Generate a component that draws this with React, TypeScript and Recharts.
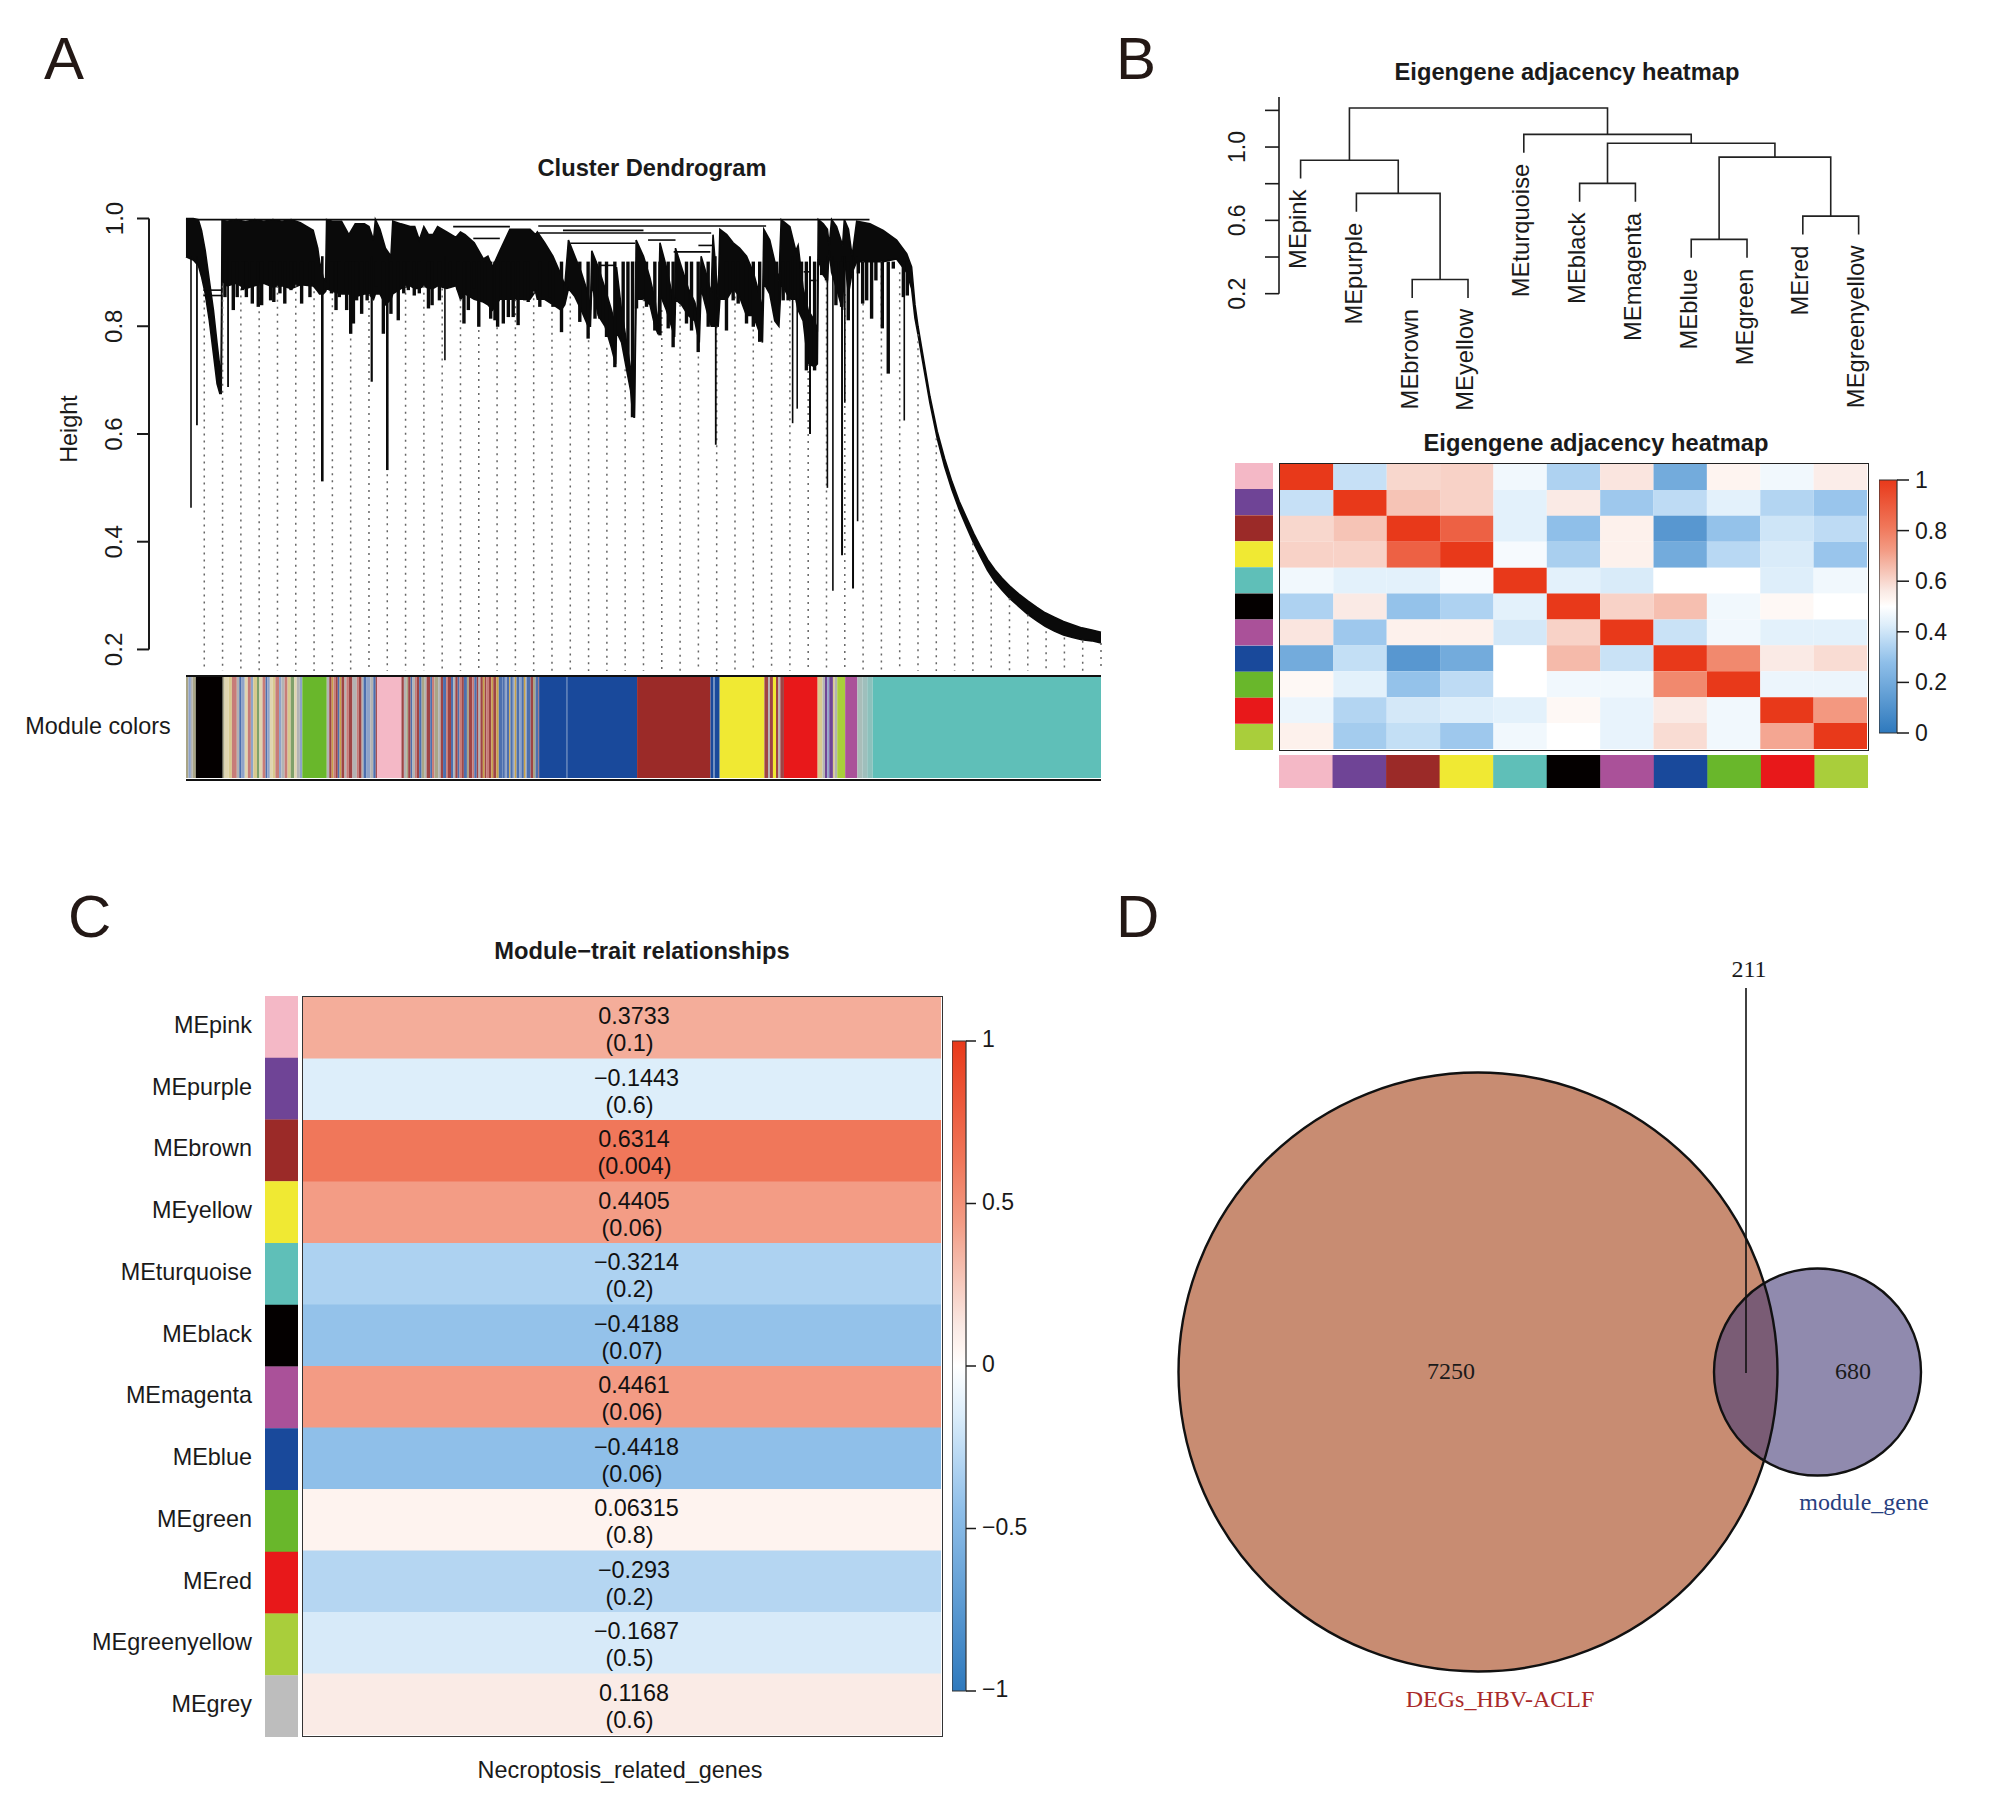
import React from 'react';
import {
  Area,
  Bar,
  BarChart,
  Cell,
  ComposedChart,
  LabelList,
  Line,
  ReferenceLine,
  Scatter,
  ScatterChart,
  XAxis,
  YAxis,
  ZAxis,
} from 'recharts';

const SANS = '"Liberation Sans", Arial, sans-serif';
const SERIF = '"Liberation Serif", "Times New Roman", serif';
const INK = '#1a1a1a';

// ---- shared module names / colours
const moduleNames = ['MEpink', 'MEpurple', 'MEbrown', 'MEyellow', 'MEturquoise', 'MEblack', 'MEmagenta', 'MEblue', 'MEgreen', 'MEred', 'MEgreenyellow', 'MEgrey'];
const moduleColors = ['#F4B8C6', '#6F4496', '#9B2A28', '#F0E933', '#5FBFB8', '#040000', '#AA5199', '#19499B', '#69B72B', '#E8181A', '#A9CE3B', '#BDBDBD'];

// colour key: signed value -> colour
const scaleValues = [-1, -0.44, -0.3, -0.15, 0, 0.06, 0.12, 0.37, 0.44, 0.63, 1];
const scaleColors = ['#2E79BD', '#8FBFE9', '#B3D5F2', '#DCEDFA', '#FFFFFF', '#FEF4F0', '#FAEAE5', '#F4AE9B', '#F39C85', '#F0775A', '#E8391A'];

const hexToRgb = (h: string) => [1, 3, 5].map((i) => parseInt(h.slice(i, i + 2), 16));
function colorFor(v: number) {
  let i = 0;
  while (i < scaleValues.length - 2 && v > scaleValues[i + 1]) i++;
  const t = (v - scaleValues[i]) / (scaleValues[i + 1] - scaleValues[i]);
  const a = hexToRgb(scaleColors[i]);
  const b = hexToRgb(scaleColors[i + 1]);
  return `rgb(${a.map((c, k) => Math.round(c + (b[k] - c) * t)).join(',')})`;
}

// ---- panel A: gene dendrogram, x = gene order per mille
// solid part of each clade
const dendroX = [
  0, 8, 13.5, 17, 21, 25.5, 30, 34, 37, 38.5,
  39.4, 45, 55, 65, 75, 85, 95, 105, 115, 125,
  139, 144, 146, 150, 152.6, 153.7, 160, 170, 178, 185,
  195, 200, 205, 207, 212, 218, 224, 226, 235, 245,
  250, 255, 260, 265, 270, 275, 285, 295, 300, 305,
  315, 325, 330, 335, 343, 354, 365, 376, 382, 384,
  392, 401, 410, 414, 418, 425, 432, 439.5, 442, 443.5,
  450.5, 458, 465, 469.5, 470.5, 476, 481.5, 486, 488, 490,
  492, 500, 507, 512.5, 516, 518, 525, 530.6, 534, 535,
  541.5, 549, 556, 561, 563, 569, 574, 576, 581.6, 583.5,
  591, 598, 605, 612.6, 620, 626.5, 630, 631.5, 638, 643.5,
  648, 650.5, 660, 666.5, 669, 674.5, 680, 687, 690, 691,
  696.5, 701, 703, 705.6, 711, 717.6, 719.5, 724, 728, 733,
  747.5, 762, 776.6, 787.6, 793, 796.7, 800, 804, 813, 821,
  829, 837, 845, 853, 861, 868, 876, 884, 892, 900,
  910, 920, 930, 939, 949, 959, 969, 979, 990, 1000,
];
const dendroTop = [
  1, 1, 0.998, 0.978, 0.941, 0.885, 0.83, 0.768, 0.724, 0.693,
  0.997, 0.995, 0.998, 0.994, 0.998, 0.995, 0.998, 0.995, 0.998, 0.992,
  0.978, 0.945, 0.92, 0.89, 0.885, 0.998, 0.995, 0.995, 0.97, 0.99,
  0.99, 0.985, 0.96, 0.998, 0.98, 0.945, 0.93, 0.995, 0.99, 0.985,
  0.985, 0.96, 0.985, 0.97, 0.97, 0.985, 0.975, 0.965, 0.975, 0.97,
  0.955, 0.925, 0.93, 0.91, 0.94, 0.98, 0.98, 0.98, 0.97, 0.975,
  0.955, 0.93, 0.895, 0.875, 0.96, 0.93, 0.9, 0.86, 0.83, 0.94,
  0.91, 0.87, 0.83, 0.8, 0.91, 0.83, 0.77, 0.72, 0.68, 0.63,
  0.96, 0.93, 0.89, 0.85, 0.8, 0.955, 0.91, 0.865, 0.82, 0.945,
  0.91, 0.87, 0.845, 0.81, 0.93, 0.895, 0.86, 0.97, 0.85, 0.98,
  0.97, 0.955, 0.945, 0.93, 0.9, 0.86, 0.83, 0.98, 0.96, 0.92,
  0.885, 0.998, 0.985, 0.94, 0.95, 0.87, 0.83, 0.81, 0.79, 0.998,
  0.99, 0.98, 0.95, 0.998, 0.985, 0.95, 0.998, 0.98, 0.93, 0.995,
  0.99, 0.978, 0.96, 0.935, 0.91, 0.84, 0.8, 0.76, 0.67, 0.605,
  0.555, 0.512, 0.475, 0.445, 0.415, 0.392, 0.367, 0.348, 0.332, 0.318,
  0.303, 0.29, 0.278, 0.268, 0.26, 0.252, 0.246, 0.24, 0.236, 0.232,
];
const dendroLow = [
  0.929, 0.923, 0.913, 0.892, 0.861, 0.811, 0.749, 0.693, 0.675, 0.675,
  0.885, 0.875, 0.88, 0.87, 0.875, 0.88, 0.873, 0.875, 0.87, 0.877,
  0.875, 0.865, 0.86, 0.86, 0.865, 0.87, 0.865, 0.86, 0.86, 0.855,
  0.86, 0.86, 0.85, 0.86, 0.86, 0.84, 0.85, 0.86, 0.87, 0.875,
  0.87, 0.87, 0.875, 0.87, 0.87, 0.875, 0.87, 0.875, 0.85, 0.86,
  0.85, 0.845, 0.84, 0.83, 0.85, 0.85, 0.85, 0.85, 0.865, 0.85,
  0.85, 0.84, 0.83, 0.84, 0.87, 0.855, 0.83, 0.8, 0.8, 0.88,
  0.82, 0.8, 0.76, 0.73, 0.79, 0.77, 0.72, 0.68, 0.64, 0.63,
  0.85, 0.85, 0.84, 0.8, 0.785, 0.86, 0.83, 0.8, 0.78, 0.85,
  0.84, 0.82, 0.81, 0.77, 0.87, 0.83, 0.8, 0.8, 0.8, 0.85,
  0.85, 0.87, 0.855, 0.82, 0.82, 0.79, 0.77, 0.88, 0.86, 0.81,
  0.8, 0.88, 0.85, 0.85, 0.83, 0.81, 0.73, 0.725, 0.73, 0.925,
  0.895, 0.885, 0.94, 0.9, 0.87, 0.83, 0.93, 0.86, 0.9, 0.92,
  0.92, 0.92, 0.925, 0.9, 0.87, 0.815, 0.785, 0.745, 0.658, 0.592,
  0.54, 0.497, 0.46, 0.428, 0.397, 0.373, 0.347, 0.326, 0.31, 0.295,
  0.28, 0.265, 0.253, 0.243, 0.234, 0.227, 0.222, 0.218, 0.216, 0.212,
];
// short hanging leaves under the clades
const hairX = [
  42.6, 51.7, 56, 62, 66, 72.5, 79, 82.7, 92.5, 96,
  102.7, 108, 114.8, 119, 126.4, 135.5, 139, 159, 164, 167.6,
  175.6, 180, 183, 186.5, 192, 198, 208, 215.7, 224, 232,
  238, 243, 249.5, 255, 265, 269, 277, 288.5, 297.6, 303.8,
  308.6, 314.8, 320, 326.8, 333, 337.7, 340.6, 346.8, 352.3, 357.6,
  363, 370.3, 374, 386.7, 397.6, 401.3, 410.4, 430.4, 439.5, 447,
  452.3, 459.6, 468.7, 477.8, 483, 488, 492.4, 503.3, 512.4, 518,
  527, 532.4, 547, 552.5, 559.8, 570.7, 590.7, 598, 603.5, 612.6,
  620, 627, 634.4, 645.4, 652.7, 658, 672.7, 678, 687, 694.7,
  700, 710.3, 716.5, 723.8, 734.8, 739.5, 743.9, 749.3, 754, 761,
  767.5, 773, 784, 788.3,
];
const hairLow = [
  0.854, 0.83, 0.854, 0.867, 0.854, 0.842, 0.836, 0.839, 0.848, 0.845,
  0.861, 0.842, 0.867, 0.885, 0.842, 0.854, 0.879, 0.861, 0.83, 0.854,
  0.83, 0.786, 0.805, 0.848, 0.823, 0.848, 0.873, 0.786, 0.823, 0.811,
  0.861, 0.867, 0.857, 0.861, 0.833, 0.839, 0.848, 0.873, 0.867, 0.805,
  0.83, 0.87, 0.799, 0.848, 0.814, 0.811, 0.799, 0.805, 0.817, 0.817,
  0.802, 0.848, 0.845, 0.836, 0.854, 0.836, 0.789, 0.808, 0.777, 0.814,
  0.814, 0.78, 0.724, 0.768, 0.718, 0.631, 0.833, 0.836, 0.792, 0.783,
  0.796, 0.761, 0.805, 0.792, 0.752, 0.799, 0.792, 0.848, 0.842, 0.805,
  0.799, 0.771, 0.879, 0.811, 0.848, 0.848, 0.83, 0.718, 0.718, 0.895,
  0.885, 0.839, 0.836, 0.811, 0.898, 0.842, 0.848, 0.814, 0.885, 0.796,
  0.712, 0.907, 0.854, 0.857,
];
// long single leaves
const spikeX = [5.5, 12, 46, 149, 203, 220, 283, 579, 663, 668, 682, 701, 707, 717, 720, 729, 734, 785];
const spikeLow = [0.463, 0.616, 0.687, 0.512, 0.697, 0.533, 0.737, 0.58, 0.62, 0.647, 0.6, 0.5, 0.309, 0.375, 0.658, 0.313, 0.438, 0.625];
const spikeWidth = [1.6, 1.8, 1.8, 2.6, 2.2, 2.6, 1.6, 1.8, 1.6, 1.6, 2, 1.6, 1.6, 2, 1.6, 2, 1.6, 1.6];
const branchFrom = [0, 385, 385, 412, 420, 533, 452, 292, 314, 675, 682, 19, 19, 505, 560];
const branchTo = [747, 634, 574, 500, 491, 573, 470, 354, 343, 682, 689, 39, 39, 535, 575];
const branchHeight = [0.998, 0.986, 0.973, 0.978, 0.954, 0.938, 0.913, 0.985, 0.963, 0.901, 0.885, 0.867, 0.857, 0.96, 0.95];
const guideX = [20, 40, 60, 80, 100, 120, 140, 160, 180, 200, 220, 240, 260, 280, 300, 320, 340, 360, 380, 400, 420, 440, 460, 480, 500, 520, 540, 560, 580, 600, 620, 640, 660, 680, 700, 720, 740, 760, 780, 800, 820, 840, 860, 880, 900, 920, 940, 960, 980, 1000];
const dendroTicks = [0.2, 0.4, 0.6, 0.8, 1.0];

// module colour strip of panel A
const P = moduleColors[0], PU = moduleColors[1], BR = moduleColors[2], Y = moduleColors[3], T = moduleColors[4], K = moduleColors[5], MG = moduleColors[6], BL = moduleColors[7], GN = moduleColors[8], R = moduleColors[9], GY = moduleColors[10];
const a = '#A9A587', b = '#8FA3C9', c = '#C77C78', d = '#D8C98E', e = '#B3B3B3', f = '#9E4445', g = '#4C6FAE', h = '#C8A24A', i = '#7FA06A', j = '#E0D5B0';
const stripColors = [
  a, b, e, a, K,
  a, j, d, c, e, g, b, j, c, b, d, i, j, c, g, b, j, d, c, b, e, c, d, i, j, e, b, GN,
  e, f, h, c, f, g, h, f, e, c, f, e, c, f, e, g, b, e, g, f, P,
  f, e, a, f, g, e, c, f, g, a, e, f, g, c, a, e, f, g, c, f, g, e, f, g, c, f, g, a, f, c, g, f, e, f, h, f, c, f, h, f, h, g, g, b, g, h, g, b, h, g, b, g, h, b, g, f, a, g, f,
  BL, '#4E74B0', BL, BR, BL, '#6C8CC0', BL, Y,
  f, e, f, Y, f, e, f, R,
  d, e, PU, b, PU, d, e, GY, MG, '#A9BDB9', '#9FBFBC', '#8CC1BC', T,
];
const stripWidths = [
  4, 4, 3, 5, 44,
  3, 7, 5, 8, 4, 3, 6, 5, 5, 4, 6, 4, 5, 5, 3, 4, 5, 4, 6, 4, 5, 5, 5, 6, 4, 5, 4, 40,
  4, 4, 3, 4, 3, 3, 3, 5, 3, 4, 6, 7, 3, 5, 3, 5, 6, 5, 4, 2, 40,
  4, 4, 3, 4, 3, 4, 3, 4, 4, 5, 3, 6, 3, 4, 6, 4, 4, 5, 3, 5, 4, 3, 4, 3, 4, 3, 5, 3, 6, 3, 4, 3, 3, 4, 3, 3, 4, 4, 3, 5, 4, 6, 4, 3, 4, 2, 4, 3, 3, 5, 3, 4, 3, 2, 6, 4, 4, 5, 1,
  45, 1, 114, 120, 5, 2, 8, 73,
  6, 3, 5, 5, 4, 3, 6, 55,
  8, 4, 4, 3, 6, 3, 4, 13, 20, 8, 8, 9, 373,
];
const stripTotal = stripWidths.reduce((s, w) => s + w, 0);
const stripRow: Record<string, number | string> = { name: 'modules' };
stripWidths.forEach((w, k) => { stripRow[`s${k}`] = w; });

// ---- panel B: eigengene tree, children are l = leaf, m = earlier merge
const mergeKids = [['l2', 'l3'], ['l1', 'm0'], ['l0', 'm1'], ['l5', 'l6'], ['l7', 'l8'], ['l9', 'l10'], ['m4', 'm5'], ['m3', 'm6'], ['l4', 'm7'], ['m2', 'm8']];
const mergeHeights = [0.277, 0.747, 0.928, 0.802, 0.496, 0.623, 0.945, 1.021, 1.069, 1.213];
const leafHang = 0.1;
const treeTicks = [0.2, 0.4, 0.6, 0.8, 1.0, 1.2];
const treeLabelled = [0.2, 0.6, 1.0];

// adjacency matrix, rows and columns in module order without grey
const adjacency = [
  [1, 0.385, 0.6, 0.61, 0.47, 0.34, 0.57, 0.2, 0.53, 0.47, 0.55],
  [0.385, 1, 0.64, 0.61, 0.44, 0.56, 0.31, 0.37, 0.44, 0.35, 0.3],
  [0.6, 0.64, 1, 0.88, 0.44, 0.28, 0.54, 0.12, 0.29, 0.4, 0.37],
  [0.61, 0.61, 0.88, 1, 0.48, 0.33, 0.54, 0.2, 0.36, 0.42, 0.3],
  [0.47, 0.44, 0.44, 0.48, 1, 0.44, 0.42, 0.5, 0.5, 0.43, 0.47],
  [0.34, 0.56, 0.29, 0.34, 0.44, 1, 0.61, 0.65, 0.47, 0.52, 0.5],
  [0.57, 0.31, 0.54, 0.54, 0.41, 0.61, 1, 0.39, 0.47, 0.44, 0.44],
  [0.2, 0.38, 0.12, 0.2, 0.5, 0.66, 0.39, 1, 0.77, 0.56, 0.59],
  [0.52, 0.44, 0.29, 0.37, 0.5, 0.47, 0.47, 0.77, 1, 0.46, 0.46],
  [0.46, 0.35, 0.41, 0.43, 0.44, 0.52, 0.45, 0.56, 0.47, 1, 0.73],
  [0.54, 0.32, 0.38, 0.31, 0.47, 0.5, 0.45, 0.59, 0.47, 0.7, 1],
];

// ---- panel C
const traitCorr = [0.3733, -0.1443, 0.6314, 0.4405, -0.3214, -0.4188, 0.4461, -0.4418, 0.06315, -0.293, -0.1687, 0.1168];
const traitP = ['(0.1)', '(0.6)', '(0.004)', '(0.06)', '(0.2)', '(0.07)', '(0.06)', '(0.06)', '(0.8)', '(0.2)', '(0.5)', '(0.6)'];

// ---- panel D
const vennSizes = [7461, 891];
const vennX = [328, 667.5];
const vennY = [422, 422];
const vennFills = ['#C88C72', '#463C78'];
const vennOpacity = [1, 0.6];
const vennTexts = ['7250', '680', '211', 'module_gene', 'DEGs_HBV-ACLF'];
const vennTextX = [301, 703, 599, 714, 350];
const vennTextY = [421, 421, 19, 552, 749];
const vennTextColors = ['#1a1a1a', '#1a1a1a', '#1a1a1a', '#28407F', '#A92A2A'];
const overlapLeaderX = [596, 596];
const overlapLeaderY = [38, 423];

const Box = ({ left, top, width, height, style, children }: any) => (
  <div style={{ position: 'absolute', left, top, width, height, ...style }}>{children}</div>
);

function DendrogramPanel() {
  const rows = dendroX.map((x, k) => ({ x, band: [dendroLow[k], dendroTop[k]] }));
  const lowAt = (x: number) => dendroLow[dendroX.findIndex((v) => v >= x)];
  const tick = ({ x, y, payload }: any) => (
    <text x={x} y={y} transform={`rotate(-90 ${x} ${y})`} textAnchor="middle" dominantBaseline="central" fontFamily={SANS} fontSize={24} fill={INK}>
      {payload.value.toFixed(1)}
    </text>
  );
  return (
    <Box left={49} top={180}>
      <ComposedChart width={1060} height={495} data={rows} margin={{ top: 38.5, right: 8, bottom: 4, left: 0 }}>
        <XAxis type="number" dataKey="x" domain={[-40.4, 1000]} hide />
        <YAxis type="number" width={100} domain={[0.16, 1]} ticks={dendroTicks} axisLine={false} tickSize={12} tickMargin={23} tickLine={{ stroke: INK, strokeWidth: 2 }} tick={tick} />
        {guideX.map((x) => (
          <ReferenceLine key={`g${x}`} segment={[{ x, y: lowAt(x) }, { x, y: 0.16 }]} stroke="#666" strokeWidth={1.5} strokeDasharray="2 5" />
        ))}
        <ReferenceLine segment={[{ x: -40.4, y: 0.2 }, { x: -40.4, y: 1 }]} stroke={INK} strokeWidth={2} />
        <Area dataKey="band" type="linear" stroke="#0a0a0a" strokeWidth={1.6} fill="#0a0a0a" fillOpacity={1} dot={false} activeDot={false} isAnimationActive={false} />
        {spikeX.map((x, k) => (
          <ReferenceLine key={`s${k}`} segment={[{ x, y: 0.93 }, { x, y: spikeLow[k] }]} stroke="#0a0a0a" strokeWidth={spikeWidth[k]} />
        ))}
        {hairX.map((x, k) => (
          <ReferenceLine key={`h${k}`} segment={[{ x, y: 0.92 }, { x, y: hairLow[k] }]} stroke="#0a0a0a" strokeWidth={3.4} />
        ))}
        {branchFrom.map((x, k) => (
          <ReferenceLine key={`b${k}`} segment={[{ x, y: branchHeight[k] }, { x: branchTo[k], y: branchHeight[k] }]} stroke="#0a0a0a" strokeWidth={1.6} />
        ))}
      </ComposedChart>
    </Box>
  );
}

function ModuleStrip() {
  return (
    <Box left={186} top={675} width={915} height={106} style={{ borderTop: '2.5px solid #111', borderBottom: '2.5px solid #111', boxSizing: 'border-box' }}>
      <BarChart width={915} height={101} layout="vertical" data={[stripRow]} barCategoryGap={0} margin={{ top: 0, right: 0, bottom: 0, left: 0 }}>
        <XAxis type="number" domain={[0, stripTotal]} hide />
        <YAxis type="category" dataKey="name" hide />
        {stripWidths.map((_, k) => (
          <Bar key={k} dataKey={`s${k}`} stackId="m" fill={stripColors[k]} isAnimationActive={false} />
        ))}
      </BarChart>
    </Box>
  );
}

function EigengeneTree() {
  const nodeX: number[] = [];
  const nodeH: number[] = [];
  const locate = (id: string) => {
    const n = Number(id.slice(1));
    return id[0] === 'l' ? { x: n, h: null } : { x: nodeX[n], h: nodeH[n] };
  };
  const links = mergeKids.map(([l, r], k) => {
    const top = mergeHeights[k];
    const L = locate(l);
    const Rt = locate(r);
    nodeX[k] = (L.x + Rt.x) / 2;
    nodeH[k] = top;
    return [
      { x: L.x, h: L.h ?? top - leafHang },
      { x: L.x, h: top },
      { x: Rt.x, h: top },
      { x: Rt.x, h: Rt.h ?? top - leafHang },
    ];
  });
  const leaves: any[] = [];
  mergeKids.forEach((kids, k) => kids.forEach((id) => {
    if (id[0] === 'l') {
      const n = Number(id.slice(1));
      leaves.push({ x: n, h: mergeHeights[k] - leafHang, name: moduleNames[n] });
    }
  }));
  const tick = ({ x, y, payload }: any) =>
    treeLabelled.includes(payload.value) ? (
      <text x={x} y={y} transform={`rotate(-90 ${x} ${y})`} textAnchor="middle" dominantBaseline="central" fontFamily={SANS} fontSize={23} fill={INK}>
        {payload.value.toFixed(1)}
      </text>
    ) : <g />;
  const leafLabel = (p: any) => (
    <text x={p.cx - 3} y={p.cy + 11} transform={`rotate(-90 ${p.cx - 3} ${p.cy + 11})`} textAnchor="end" dominantBaseline="central" fontFamily={SANS} fontSize={23.8} fill={INK}>
      {p.payload.name}
    </text>
  );
  return (
    <Box left={1179} top={90}>
      <ComposedChart width={701} height={342} margin={{ top: 7, right: 0, bottom: 120, left: 0 }}>
        <XAxis type="number" dataKey="x" domain={[-0.387, 10.383]} hide allowDuplicatedCategory />
        <YAxis type="number" dataKey="h" width={100} domain={[0.1, 1.273]} ticks={treeTicks} axisLine={false} tickSize={14} tickMargin={28} tickLine={{ stroke: INK, strokeWidth: 1.6 }} tick={tick} interval={0} />
        <ReferenceLine segment={[{ x: -0.387, y: 0.2 }, { x: -0.387, y: 1.273 }]} stroke={INK} strokeWidth={1.6} />
        {links.map((pts, k) => (
          <Line key={k} data={pts} dataKey="h" type="linear" stroke="#222" strokeWidth={1.6} dot={false} activeDot={false} isAnimationActive={false} />
        ))}
        <Scatter data={leaves} dataKey="h" shape={leafLabel} isAnimationActive={false} />
      </ComposedChart>
    </Box>
  );
}

function AdjacencyHeatmap() {
  const cols = adjacency[0].map((_, k) => k);
  const rows = adjacency.map((_, r) => {
    const row: Record<string, number | string> = { name: moduleNames[r] };
    cols.forEach((k) => { row[`span${k}`] = 1; });
    return row;
  });
  return (
    <Box left={1279} top={463} width={590} height={288} style={{ border: '1.5px solid #222', boxSizing: 'border-box' }}>
      <BarChart width={587} height={285} layout="vertical" data={rows} barCategoryGap={0} margin={{ top: 0, right: 0, bottom: 0, left: 0 }}>
        <XAxis type="number" domain={[0, cols.length]} hide />
        <YAxis type="category" dataKey="name" hide />
        {cols.map((k) => (
          <Bar key={k} dataKey={`span${k}`} stackId="h" isAnimationActive={false}>
            {adjacency.map((row, r) => <Cell key={r} fill={colorFor(2 * row[k] - 1)} />)}
          </Bar>
        ))}
      </BarChart>
    </Box>
  );
}

// one colour per module, as a column or as a row
function ColorBand({ count, left, top, width, height, horizontal, axisWidth = 0 }: any) {
  const rows = moduleNames.slice(0, count).map((name) => ({ name, span: 1 }));
  const tick = ({ x, y, payload }: any) => (
    <text x={x} y={y - 2} textAnchor="end" dominantBaseline="central" fontFamily={SANS} fontSize={23.4} fill={INK}>{payload.value}</text>
  );
  return (
    <Box left={left} top={top}>
      <BarChart width={width} height={height} layout={horizontal ? 'horizontal' : 'vertical'} data={rows} barCategoryGap={0} margin={{ top: 0, right: 0, bottom: 0, left: 0 }}>
        {horizontal ? (
          <>
            <XAxis type="category" dataKey="name" hide />
            <YAxis type="number" domain={[0, 1]} hide />
          </>
        ) : (
          <>
            <XAxis type="number" domain={[0, 1]} hide />
            <YAxis type="category" dataKey="name" hide={axisWidth === 0} width={axisWidth} axisLine={false} tickLine={false} tickSize={0} tickMargin={13} tick={tick} interval={0} />
          </>
        )}
        <Bar dataKey="span" isAnimationActive={false}>
          {rows.map((_, k) => <Cell key={k} fill={moduleColors[k]} />)}
        </Bar>
      </BarChart>
    </Box>
  );
}

function ColorKey({ id, left, top, barWidth, height, domain, ticks, tickSize, tickMargin, labelShift = 0 }: any) {
  const tick = ({ x, y, payload }: any) => (
    <text x={x} y={y + labelShift} dominantBaseline="central" fontFamily={SANS} fontSize={23} fill={INK}>
      {String(payload.value).replace('-', '−')}
    </text>
  );
  return (
    <Box left={left} top={top - 20}>
      <BarChart width={barWidth + 80} height={height + 40} data={[{ name: 'key', range: domain }]} barCategoryGap={0} margin={{ top: 20, right: 0, bottom: 20, left: 0 }}>
        <defs>
          <linearGradient id={id} x1="0" y1="0" x2="0" y2="1">
            {[...scaleValues].reverse().map((v) => (
              <stop key={v} offset={`${((1 - v) / 2) * 100}%`} stopColor={scaleColors[scaleValues.indexOf(v)]} />
            ))}
          </linearGradient>
        </defs>
        <XAxis type="category" dataKey="name" hide />
        <YAxis type="number" orientation="right" width={80} domain={domain} ticks={ticks} interval={0} axisLine={false} tickSize={tickSize} tickMargin={tickMargin} tickLine={{ stroke: INK, strokeWidth: 1.5 }} tick={tick} />
        <Bar dataKey="range" fill={`url(#${id})`} stroke="#333" strokeWidth={1.2} isAnimationActive={false} />
      </BarChart>
    </Box>
  );
}

function TraitHeatmap() {
  const rows = moduleNames.map((name, k) => ({ name, span: 1, corr: traitCorr[k] }));
  // the lines sit a little right of the cell centre and do not share one centre
  const cellText = (p: any) => {
    const cx = p.x + p.width / 2;
    const line1 = String(traitCorr[p.index]).replace('-', '−');
    const line2 = traitP[p.index];
    return (
      <text textAnchor="middle" fontFamily={SANS} fontSize={23.4} fill="#111">
        <tspan x={cx + (line1.length >= 7 ? 14.5 : 12)} y={p.y + 27}>{line1}</tspan>
        <tspan x={cx + 2.5 * line2.length - 5} y={p.y + 54}>{line2}</tspan>
      </text>
    );
  };
  return (
    <Box left={302} top={996} width={641} height={741} style={{ border: '1.5px solid #333', boxSizing: 'border-box' }}>
      <BarChart width={638} height={738} layout="vertical" data={rows} barCategoryGap={0} margin={{ top: 0, right: 0, bottom: 0, left: 0 }}>
        <XAxis type="number" domain={[0, 1]} hide />
        <YAxis type="category" dataKey="name" hide />
        <Bar dataKey="span" isAnimationActive={false}>
          {rows.map((r, k) => <Cell key={k} fill={colorFor(r.corr)} />)}
          <LabelList dataKey="corr" content={cellText} />
        </Bar>
      </BarChart>
    </Box>
  );
}

function VennPanel() {
  const sets = vennSizes.map((size, k) => ({ x: vennX[k], y: vennY[k], size }));
  const labels = vennTexts.map((t, k) => ({ x: vennTextX[k], y: vennTextY[k], t, color: vennTextColors[k] }));
  const leader = overlapLeaderX.map((x, k) => ({ x, y: overlapLeaderY[k] }));
  const label = (p: any) => (
    <text x={p.cx} y={p.cy} textAnchor="middle" dominantBaseline="central" fontFamily={SERIF} fontSize={24} fill={p.payload.color}>
      {p.payload.t}
    </text>
  );
  return (
    <Box left={1150} top={950}>
      <ScatterChart width={820} height={800} margin={{ top: 0, right: 0, bottom: 0, left: 0 }}>
        <XAxis type="number" dataKey="x" domain={[0, 820]} hide />
        <YAxis type="number" dataKey="y" domain={[0, 800]} reversed hide />
        <ZAxis type="number" dataKey="size" domain={[0, 7461]} range={[0, 281800]} />
        {sets.map((s, k) => (
          <Scatter key={k} data={[s]} fill={vennFills[k]} fillOpacity={vennOpacity[k]} isAnimationActive={false} />
        ))}
        <Scatter data={sets} fill="none" stroke="#111" strokeWidth={2.4} isAnimationActive={false} />
        <Scatter data={leader} line={{ stroke: '#111', strokeWidth: 1.6 }} shape={() => <g />} isAnimationActive={false} />
        <Scatter data={labels} shape={label} isAnimationActive={false} />
      </ScatterChart>
    </Box>
  );
}

function Captions() {
  const bold = { fontFamily: SANS, fontSize: 23.7, fontWeight: 700, fill: INK, textAnchor: 'middle' as const };
  const plain = { fontFamily: SANS, fontSize: 23.4, fill: INK, textAnchor: 'middle' as const };
  const letter = { fontFamily: SANS, fontSize: 60, fill: '#231815' };
  return (
    <svg width={2008} height={1815} style={{ position: 'absolute', left: 0, top: 0, pointerEvents: 'none' }}>
      <text x={44} y={79} {...letter}>A</text>
      <text x={1116} y={79} {...letter}>B</text>
      <text x={68} y={937} {...letter}>C</text>
      <text x={1116} y={937} {...letter}>D</text>
      <text x={652} y={176} {...bold}>Cluster Dendrogram</text>
      <text x={1567} y={80} {...bold}>Eigengene adjacency heatmap</text>
      <text x={1596} y={451} {...bold}>Eigengene adjacency heatmap</text>
      <text x={642} y={959} {...bold}>Module−trait relationships</text>
      <text x={620} y={1778} {...plain}>Necroptosis_related_genes</text>
      <text x={98} y={734} {...plain}>Module colors</text>
      <text x={69} y={429} transform="rotate(-90 69 429)" dominantBaseline="central" {...plain}>Height</text>
    </svg>
  );
}

export default function App() {
  return (
    <div style={{ position: 'absolute', left: 0, top: 0, width: 2008, height: 1815, background: '#fff', overflow: 'hidden' }}>
      <DendrogramPanel />
      <ModuleStrip />
      <EigengeneTree />
      <ColorBand count={11} left={1235} top={463} width={38} height={287} />
      <AdjacencyHeatmap />
      <ColorBand count={11} left={1279} top={755} width={589} height={33} horizontal />
      <ColorKey id="keyB" left={1879} top={480} barWidth={18} height={253} domain={[0, 1]} ticks={[0, 0.2, 0.4, 0.6, 0.8, 1]} tickSize={12} tickMargin={6} />
      <ColorBand count={12} left={60} top={996} width={238} height={741} axisWidth={205} />
      <TraitHeatmap />
      <ColorKey id="keyC" left={952} top={1041} barWidth={14} height={650} domain={[-1, 1]} ticks={[-1, -0.5, 0, 0.5, 1]} tickSize={10} tickMargin={6} labelShift={-2} />
      <VennPanel />
      <Captions />
    </div>
  );
}
